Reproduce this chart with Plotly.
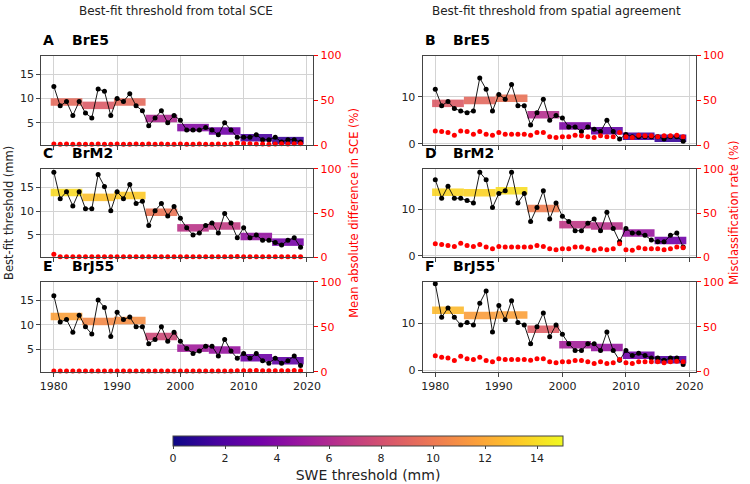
import plotly.graph_objects as go
from plotly.colors import sample_colorscale

years = list(range(1980, 2020))
periods = [(1980, 1984), (1985, 1989), (1990, 1994), (1995, 1999),
           (2000, 2004), (2005, 2009), (2010, 2014), (2015, 2019)]

col_titles = ["Best-fit threshold from total SCE", "Best-fit threshold from spatial agreement"]
panel_letters = ["A", "B", "C", "D", "E", "F"]
panel_sites = ["BrE5", "BrE5", "BrM2", "BrM2", "BrJ55", "BrJ55"]

# yearly best-fit thresholds (mm)
thr_A = [12.5, 8.5, 9.4, 6.5, 9.4, 7.0, 6.0, 12.0, 11.5, 6.5, 10.0, 9.4, 11.0, 8.5, 7.5,
         4.4, 6.0, 7.5, 5.0, 6.5, 5.5, 3.5, 3.5, 3.5, 4.0, 3.5, 2.5, 5.0, 3.5, 2.0,
         2.0, 2.0, 2.5, 1.5, 1.5, 2.0, 1.0, 1.5, 1.5, 1.0]
thr_B = [11.6, 8.1, 9.0, 7.5, 7.0, 6.6, 7.0, 14.0, 11.6, 7.0, 10.5, 9.5, 12.6, 8.1, 8.1,
         4.0, 6.6, 9.5, 5.0, 6.0, 5.5, 3.6, 3.6, 2.6, 3.6, 3.1, 2.6, 5.0, 2.6, 1.0,
         2.0, 1.5, 1.5, 1.5, 1.5, 1.5, 1.0, 1.5, 1.5, 0.55]
thr_C = [18.2, 12.6, 14.1, 11.1, 14.1, 10.5, 10.5, 17.7, 15.2, 10.1, 14.1, 12.6, 15.6, 11.6, 12.1,
         7.0, 10.1, 11.6, 9.0, 11.0, 8.5, 6.5, 5.0, 5.4, 7.0, 7.5, 5.4, 9.5, 7.5, 4.4,
         6.5, 4.4, 5.0, 3.9, 3.9, 3.4, 2.9, 3.9, 4.4, 2.4]
thr_D = [16.4, 12.4, 15.0, 12.4, 12.4, 11.9, 11.4, 18.0, 16.4, 10.4, 13.4, 14.0, 18.0, 11.4, 13.4,
         7.4, 10.4, 14.0, 7.9, 11.4, 8.5, 7.4, 5.4, 5.4, 7.0, 7.9, 5.4, 9.4, 5.9, 3.0,
         5.9, 4.9, 4.9, 4.4, 3.4, 3.0, 3.0, 4.4, 4.9, 1.9]
thr_E = [16.0, 10.6, 11.1, 8.5, 12.0, 9.6, 8.1, 15.1, 13.6, 7.6, 12.6, 11.1, 11.6, 9.6, 9.6,
         6.1, 7.0, 9.6, 6.6, 8.5, 6.6, 5.1, 4.1, 4.6, 5.6, 5.6, 3.6, 7.0, 4.6, 3.1,
         4.1, 3.1, 4.1, 2.6, 2.1, 3.1, 2.1, 2.6, 3.6, 1.6]
thr_F = [18.3, 11.2, 13.2, 11.2, 9.6, 10.1, 9.6, 14.2, 16.8, 8.1, 13.7, 10.7, 14.7, 10.1, 9.6,
         5.6, 9.2, 12.1, 7.1, 9.6, 7.6, 5.6, 4.2, 4.2, 5.6, 5.6, 4.2, 8.1, 4.2, 2.1,
         4.2, 3.1, 3.6, 3.1, 2.6, 2.6, 2.1, 2.6, 2.6, 1.2]

# 5-year period thresholds (mm)
per_A = [9.3, 8.6, 9.3, 5.9, 4.0, 3.3, 1.9, 1.3]
per_B = [8.6, 9.2, 9.7, 6.2, 3.8, 2.8, 1.6, 1.2]
per_C = [13.9, 12.9, 13.3, 9.8, 6.5, 6.9, 4.7, 3.5]
per_D = [13.7, 13.6, 14.0, 10.2, 6.7, 6.4, 4.9, 3.3]
per_E = [11.7, 10.7, 10.9, 7.6, 5.2, 4.8, 3.2, 2.6]
per_F = [12.7, 11.6, 11.7, 8.7, 5.4, 4.8, 3.2, 2.2]

# yearly error metric (%)
err_A = [1.5, 1.2, 1.5, 1.2, 1.2, 1.2, 1.2, 1.5, 1.2, 1.2, 1.5, 1.2, 1.2, 1.5, 1.2,
         1.5, 1.2, 1.5, 1.2, 1.2, 1.5, 1.2, 1.2, 1.5, 1.2, 1.2, 1.5, 1.2, 1.5, 2.8,
         2.2, 1.8, 1.5, 1.5, 1.2, 1.5, 1.8, 1.5, 1.8, 2.0]
err_B = [16.1, 15.4, 14.3, 11.4, 16.1, 15.4, 12.5, 15.4, 12.5, 11.4, 14.3, 12.5, 12.5, 12.5, 12.5,
         11.4, 14.3, 14.3, 9.6, 8.9, 9.6, 9.6, 11.4, 10.7, 9.6, 8.9, 10.7, 9.6, 9.6, 14.3,
         9.6, 8.9, 11.4, 10.7, 10.7, 9.6, 10.7, 10.7, 11.4, 9.6]
err_C = [3.6, 0.8, 0.8, 0.8, 0.8, 0.8, 0.8, 0.8, 0.8, 0.8, 0.8, 0.8, 0.8, 0.8, 0.8,
         0.8, 0.8, 0.8, 0.8, 0.8, 0.8, 0.8, 0.8, 0.8, 0.8, 0.8, 0.8, 0.8, 0.8, 1.0,
         0.8, 0.8, 0.8, 0.8, 0.8, 0.8, 0.8, 0.8, 0.8, 0.8]
err_D = [15.3, 14.5, 13.5, 12.4, 16.0, 13.5, 12.4, 14.5, 11.6, 9.8, 12.4, 11.6, 11.6, 11.6, 11.6,
         11.6, 13.5, 12.4, 9.8, 8.7, 9.8, 9.8, 11.6, 11.6, 9.8, 8.0, 9.8, 8.7, 9.8, 15.3,
         8.7, 8.0, 10.9, 9.8, 9.8, 9.8, 8.7, 9.8, 11.6, 10.9]
err_E = [1.0, 1.0, 1.0, 1.0, 1.0, 1.0, 1.0, 1.0, 1.0, 1.0, 1.0, 1.0, 1.0, 1.0, 1.0,
         1.0, 1.0, 1.0, 1.0, 1.0, 1.0, 1.0, 1.0, 1.0, 1.0, 1.0, 1.0, 1.0, 1.0, 1.2,
         1.2, 1.2, 1.5, 1.2, 1.2, 1.2, 1.2, 1.2, 1.5, 1.2]
err_F = [18.0, 16.2, 15.5, 12.6, 17.3, 14.7, 13.7, 16.2, 12.6, 11.2, 14.7, 13.7, 13.7, 13.7, 13.7,
         12.9, 14.7, 14.7, 11.2, 10.1, 11.2, 11.2, 12.6, 12.6, 11.2, 9.4, 11.2, 9.4, 10.1, 13.7,
         10.1, 9.4, 11.2, 11.2, 11.2, 11.2, 10.1, 11.2, 11.9, 11.2]

thr_all = [thr_A, thr_B, thr_C, thr_D, thr_E, thr_F]
per_all = [per_A, per_B, per_C, per_D, per_E, per_F]
err_all = [err_A, err_B, err_C, err_D, err_E, err_F]

W, H = 750, 484
FONT = "DejaVu Sans"
SPINE = "#444444"
GRID = "#d3d3d3"
RED = "#ff0000"

col_x = [(40.7, 316.0), (426.7, 703.3)]
row_y = [(51.0, 143.3), (167.3, 258.3), (283.3, 376.0)]

fig = go.Figure()
layout = {}
annotations = []

for i in range(6):
    r, c = divmod(i, 2)
    n = i + 1
    n2 = i + 7
    xs = "" if n == 1 else str(n)
    xd = [col_x[c][0] / W, col_x[c][1] / W]
    yd = [1 - row_y[r][1] / H, 1 - row_y[r][0] / H]

    # period bars
    for k, (a, b) in enumerate(periods):
        v = per_all[i][k]
        colr = sample_colorscale("Plasma", [min(max(v / 15.0, 0), 1)])[0]
        fig.add_trace(go.Scatter(
            x=[a - 0.5, b + 0.5], y=[v, v], mode="lines",
            line=dict(color=colr, width=7.5), opacity=0.9,
            xaxis="x" + xs, yaxis="y" + xs, showlegend=False, hoverinfo="skip"))
    # yearly thresholds
    fig.add_trace(go.Scatter(
        x=years, y=thr_all[i], mode="lines+markers",
        line=dict(color="black", width=0.9),
        marker=dict(color="black", size=5),
        xaxis="x" + xs, yaxis="y" + xs, showlegend=False, cliponaxis=False))
    # error metric
    fig.add_trace(go.Scatter(
        x=years, y=err_all[i], mode="markers",
        marker=dict(color=RED, size=5),
        xaxis="x" + xs, yaxis="y" + str(n2), showlegend=False, cliponaxis=False))

    layout["xaxis" + xs] = dict(
        domain=xd, range=[1978, 2021], anchor="y" + xs,
        tickvals=[1980, 1990, 2000, 2010, 2020],
        showticklabels=(r == 2), ticks="outside", ticklen=4, tickcolor=SPINE,
        showgrid=True, gridcolor=GRID, gridwidth=1, zeroline=False,
        showline=True, mirror=True, linecolor=SPINE, linewidth=1,
        tickfont=dict(size=11, color="#222222", family=FONT))
    if c == 0:
        yr, ytv = [0.3, 18.9], [5, 10, 15]
    else:
        yr, ytv = [-0.35, 18.75], [0, 10]
    layout["yaxis" + xs] = dict(
        domain=yd, range=yr, anchor="x" + xs, tickvals=ytv,
        ticks="outside", ticklen=4, tickcolor=SPINE,
        showgrid=True, gridcolor=GRID, gridwidth=1, zeroline=False,
        showline=True, linecolor=SPINE, linewidth=1,
        tickfont=dict(size=11, color="#222222", family=FONT))
    layout["yaxis" + str(n2)] = dict(
        overlaying="y" + xs, side="right", anchor="x" + xs, range=[0, 100],
        tickvals=[0, 50, 100], ticks="outside", ticklen=4, tickcolor=RED,
        showgrid=False, zeroline=False, showline=True, linecolor=SPINE, linewidth=1,
        tickfont=dict(size=11, color=RED, family=FONT))

    # panel labels
    ty = 1 - (row_y[r][0] - 16) / H
    annotations.append(dict(text="<b>%s</b>" % panel_letters[i], xref="paper", yref="paper",
                            x=col_x[c][0] / W, y=ty, xanchor="left", yanchor="middle",
                            showarrow=False, font=dict(size=14, color="black", family=FONT)))
    annotations.append(dict(text="<b>%s</b>" % panel_sites[i], xref="paper", yref="paper",
                            x=(col_x[c][0] + 29) / W, y=ty, xanchor="left", yanchor="middle",
                            showarrow=False, font=dict(size=14, color="black", family=FONT)))

# column titles
annotations.append(dict(text=col_titles[0], xref="paper", yref="paper", x=177.5 / W, y=1 - 5 / H,
                        xanchor="center", yanchor="middle", showarrow=False,
                        font=dict(size=12, color="#222222", family=FONT)))
annotations.append(dict(text=col_titles[1], xref="paper", yref="paper", x=562.5 / W, y=1 - 5 / H,
                        xanchor="center", yanchor="middle", showarrow=False,
                        font=dict(size=12, color="#222222", family=FONT)))
mid_y = 1 - (row_y[1][0] + row_y[1][1]) / 2 / H
annotations.append(dict(text="Best-fit threshold (mm)", xref="paper", yref="paper", x=8 / W, y=mid_y,
                        xanchor="center", yanchor="middle", textangle=-90, showarrow=False,
                        font=dict(size=11.5, color="#222222", family=FONT)))
annotations.append(dict(text="Mean absolute difference in SCE (%)", xref="paper", yref="paper",
                        x=357 / W, y=mid_y, xanchor="center", yanchor="middle", textangle=-90,
                        showarrow=False, font=dict(size=11.5, color=RED, family=FONT)))
annotations.append(dict(text="Misclassification rate (%)", xref="paper", yref="paper",
                        x=741.5 / W, y=mid_y, xanchor="center", yanchor="middle", textangle=-90,
                        showarrow=False, font=dict(size=11.5, color=RED, family=FONT)))

# colorbar
fig.add_trace(go.Scatter(
    x=[None], y=[None], mode="markers", xaxis="x", yaxis="y", showlegend=False,
    marker=dict(color=[0], cmin=0, cmax=15, colorscale="Plasma", showscale=True,
                colorbar=dict(orientation="h", x=371.5 / W, xanchor="center",
                              y=1 - 442 / H, yanchor="top", len=395 / W, lenmode="fraction",
                              thickness=10, xpad=0, ypad=0, outlinewidth=1, outlinecolor=SPINE,
                              tickvals=[0, 2, 4, 6, 8, 10, 12, 14], ticks="outside", ticklen=3,
                              tickfont=dict(size=11, color="#222222", family=FONT),
                              title=dict(text="SWE threshold (mm)", side="bottom",
                                         font=dict(size=14, color="#222222", family=FONT))))))

fig.update_layout(
    width=W, height=H, margin=dict(l=0, r=0, t=0, b=0),
    paper_bgcolor="white", plot_bgcolor="white",
    font=dict(family=FONT), annotations=annotations, **layout)

fig.write_html("out.html")
